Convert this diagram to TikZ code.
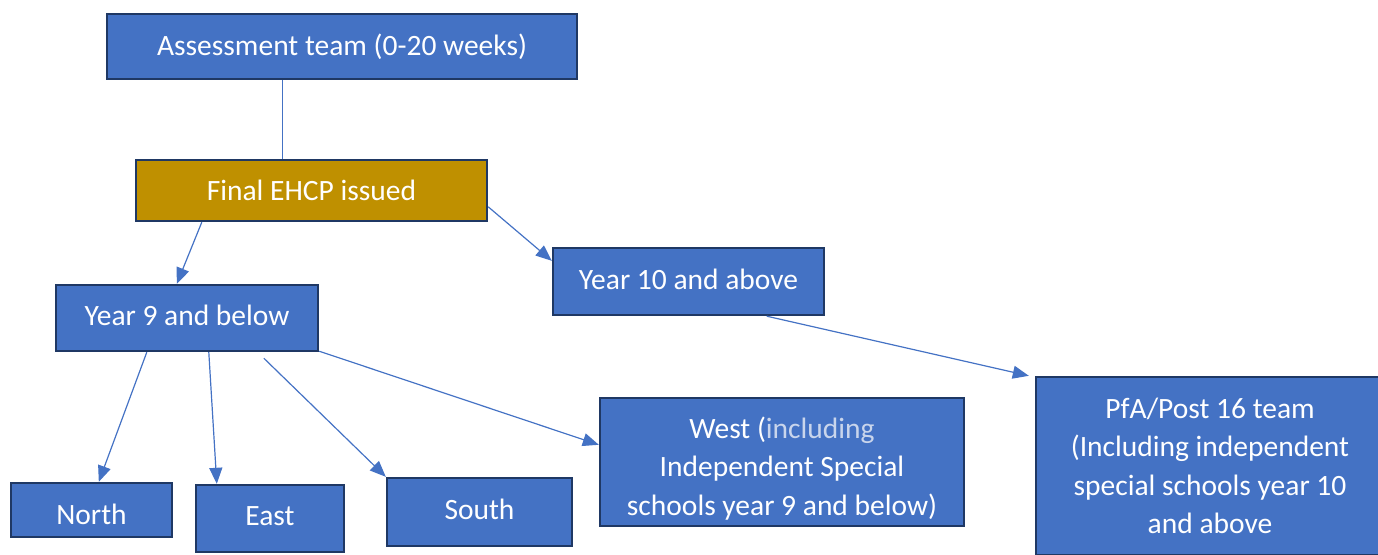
\documentclass[tikz,border=0pt]{standalone}
\usepackage{fontspec}
\setmainfont{Carlito}
\usetikzlibrary{arrows.meta,calc}
\definecolor{boxblue}{HTML}{4472C4}
\definecolor{boxedge}{HTML}{1F3864}
\definecolor{gold}{HTML}{BF9000}
\definecolor{linkblue}{HTML}{4472C4}
\definecolor{paletext}{HTML}{C9D5EC}
\newcommand{\shifttext}[2]{\raisebox{#1}[\height][\depth]{#2}}
\tikzset{
  box/.style={draw=boxedge, line width=2.4pt, fill=boxblue, text=white, rectangle, inner sep=0pt, align=center, font=\fontsize{29.5}{38.5}\selectfont},
  link/.style={draw=linkblue, line width=1.2pt},
  arr/.style={link, -{Triangle[width=13pt,length=16pt]}},
}
\begin{document}
\begin{tikzpicture}[x=1pt,y=1pt]
\useasboundingbox (0,0) rectangle (1378,-554);
\clip (0,0) rectangle (1378,-554);
\node[box, minimum width=470pt, minimum height=65pt] (assess) at (342,-46.5) {Assessment team (0-20 weeks)};
\node[box, fill=gold, minimum width=351pt, minimum height=61pt] (final) at (311.5,-190.5) {Final EHCP issued};
\node[box, minimum width=262pt, minimum height=66pt] (y9) at (187,-318) {\shifttext{3pt}{Year 9 and below}};
\node[box, minimum width=271pt, minimum height=67pt] (y10) at (688.5,-281.5) {\shifttext{2pt}{Year 10 and above}};
\node[box, minimum width=161pt, minimum height=54pt] (north) at (91.5,-510) {\shifttext{-4pt}{North}};
\node[box, minimum width=148pt, minimum height=67pt] (east) at (270,-518.5) {\shifttext{2pt}{East}};
\node[box, minimum width=185pt, minimum height=68pt] (south) at (479.5,-512) {\shifttext{3pt}{South}};
\node[box, minimum width=364pt, minimum height=128pt] (west) at (782,-462) {\shifttext{-7pt}{\begin{tabular}{@{}c@{}}West ({\color{paletext}including}\\Independent Special\\schools year 9 and below)\end{tabular}}};
\node[box, minimum width=348pt, minimum height=178pt] (pfa) at (1210,-466) {PfA/Post 16 team\\(Including independent\\special schools year 10\\and above};
\draw[link] ([xshift=177pt]assess.south west) -- ([xshift=148pt]final.north west);
\draw[arr] ([xshift=67pt]final.south west) -- ([xshift=122pt]y9.north west);
\draw[arr] ([yshift=-48pt]final.north east) -- ([yshift=-14pt]y10.north west);
\draw[arr] ([xshift=215pt]y10.south west) -- ([xshift=-6pt]pfa.north west);
\draw[arr] ([xshift=92pt]y9.south west) -- ([xshift=89pt]north.north west);
\draw[arr] ([xshift=154pt]y9.south west) -- ([xshift=22pt]east.north west);
\draw[arr] ([xshift=209pt,yshift=-6pt]y9.south west) -- (south.north west);
\draw[arr] ([yshift=1pt]y9.south east) -- ([yshift=-48pt]west.north west);
\end{tikzpicture}
\end{document}
